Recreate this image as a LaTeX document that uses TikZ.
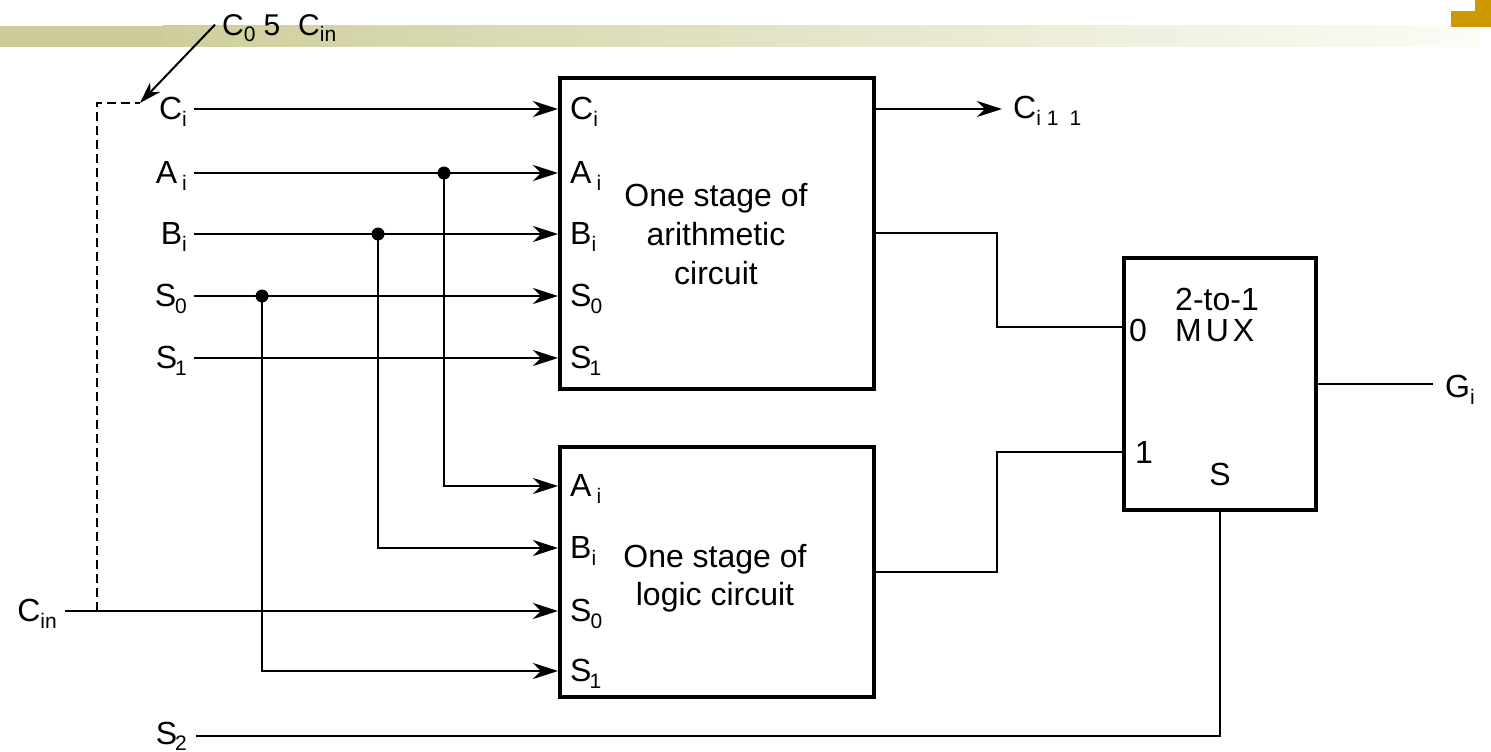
\documentclass[tikz,border=0pt]{standalone}
\usepackage{fontspec}
\setmainfont{Liberation Sans}
\usetikzlibrary{arrows.meta}
\definecolor{barL}{RGB}{204,204,153}
\definecolor{barM}{RGB}{206,206,156}
\definecolor{barR}{RGB}{252,252,247}
\definecolor{gold}{RGB}{204,153,0}
\newcommand{\lsub}[1]{\raisebox{-7pt}{\fontsize{21pt}{21pt}\selectfont #1}}
\newcommand{\tsub}[1]{\raisebox{-6pt}{\fontsize{21pt}{21pt}\selectfont #1}}
\begin{document}
\begin{tikzpicture}[x=1pt,y=-1pt,
  lbl/.style={font=\fontsize{32pt}{39pt}\selectfont, inner sep=0pt},
  box/.style={draw, line width=4pt, inner sep=0pt},
  wire/.style={line width=2.4pt},
  arr/.style={wire, -{Stealth[length=25pt,width=16pt,inset=8pt]}},
  thinarr/.style={line width=2pt, -{Stealth[length=22pt,width=14pt,inset=7pt]}},
  dashwire/.style={line width=1.6pt, dash pattern=on 9pt off 5pt},
  dot/.style={circle, fill, inner sep=0pt, minimum size=13pt}]
\useasboundingbox (0,0) rectangle (1491,752);
% header bar
\fill[barL] (0,26) rectangle (163,47);
\shade[left color=barM, right color=barR] (163,26) rectangle (1480,47);
\fill[gold] (1451,11) rectangle (1491,27);
\fill[gold] (1475,0) rectangle (1491,11);

% boxes
\node[box, minimum width=314pt, minimum height=311pt] (arith) at (717,233.5) {};
\node[box, minimum width=314pt, minimum height=250pt] (logic) at (717,572) {};
\node[box, minimum width=192pt, minimum height=252pt] (mux) at (1220,384) {};

\node[lbl, align=center] (atext) at (716,234) {One stage of\\arithmetic\\circuit};
\node[lbl, align=center, font=\fontsize{32pt}{38pt}\selectfont] (ltext) at (715,578) {One stage of\\logic circuit};

% port labels inside arithmetic box
\node[lbl, anchor=base west] (aCi) at (570,119) {C\lsub{i}};
\node[lbl, anchor=base west] (aAi) at (570,183) {A\hspace{5pt}\lsub{i}};
\node[lbl, anchor=base west] (aBi) at (570,244) {B\lsub{i}};
\node[lbl, anchor=base west] (aS0) at (570,306) {S\kern-1pt\lsub{0}};
\node[lbl, anchor=base west] (aS1) at (570,368) {S\kern-2pt\lsub{1}};
% port labels inside logic box
\node[lbl, anchor=base west] (lAi) at (570,496) {A\hspace{5pt}\lsub{i}};
\node[lbl, anchor=base west] (lBi) at (570,558) {B\lsub{i}};
\node[lbl, anchor=base west] (lS0) at (570,621) {S\kern-1pt\lsub{0}};
\node[lbl, anchor=base west] (lS1) at (570,681) {S\kern-2pt\lsub{1}};

% mux labels
\node[lbl, anchor=base] (m21) at (1217,310) {2-to-1};
\node[lbl, anchor=base west] (m0) at (1129,341) {0};
\node[lbl, anchor=base west] (mmux) at (1175,341) {M\kern4pt U\kern4pt X};
\node[lbl, anchor=base west] (m1) at (1135,463) {1};
\node[lbl, anchor=base] (ms) at (1220,485) {S};

% external labels
\node[lbl, anchor=base east] (iCi) at (187,119) {C\lsub{i}};
\node[lbl, anchor=base east] (iAi) at (187,183) {A\hspace{5pt}\lsub{i}};
\node[lbl, anchor=base east] (iBi) at (187,244) {B\lsub{i}};
\node[lbl, anchor=base east] (iS0) at (187,306) {S\kern-1pt\lsub{0}};
\node[lbl, anchor=base east] (iS1) at (187,368) {S\kern-2pt\lsub{1}};
\node[lbl, anchor=base east] (iCin) at (57,621) {C\lsub{in}};
\node[lbl, anchor=base east] (iS2) at (187,744) {S\kern-2pt\raisebox{-6pt}{\fontsize{21pt}{21pt}\selectfont 2}};
\node[lbl, anchor=base west] (oCi) at (1013,118) {C\lsub{i\hspace{6pt}1\hspace{11pt}1}};
\node[lbl, anchor=base west] (oG) at (1445,397) {G\lsub{i}};
\node[lbl, anchor=base west, font=\fontsize{30pt}{36pt}\selectfont] (c0) at (222,36) {C\tsub{0}\hspace{8pt}5\hspace{18pt}C\tsub{in}};

% start coordinates
\coordinate (sCi) at (194,109);
\coordinate (sAi) at (194,173);
\coordinate (sBi) at (194,234);
\coordinate (sS0) at (194,296);
\coordinate (sS1) at (194,358);
\coordinate (sCin) at (65,611);
\coordinate (sS2) at (196,736);
\coordinate (dbot) at (97,611);
\coordinate (dtop) at (97,103);
\coordinate (dend) at (140,103);

% junction dots
\node[dot] (jA) at (444,173) {};
\node[dot] (jB) at (378,234) {};
\node[dot] (jS) at (262,296) {};

% input wires
\draw[arr] (sCi) -- (sCi -| arith.west);
\draw[arr] (sAi) -- (sAi -| arith.west);
\draw[arr] (sBi) -- (sBi -| arith.west);
\draw[arr] (sS0) -- (sS0 -| arith.west);
\draw[arr] (sS1) -- (sS1 -| arith.west);
\draw[arr] (jA.center) |- (logic.west |- 0,486);
\draw[arr] (jB.center) |- (logic.west |- 0,548);
\draw[arr] (jS.center) |- (logic.west |- 0,671);
\draw[arr] (sCin) -- (sCin -| logic.west);
\draw[dashwire] (dbot) -- (dtop) -- (dend);
\draw[thinarr] ([xshift=-7pt,yshift=4pt]c0.west) -- (dend);

% outputs
\draw[arr] (arith.east |- 0,109) -- ([xshift=-11pt]oCi.west |- 0,109);
\draw[wire] (arith.east |- 0,233) -- (997,233) |- (mux.west |- 0,327);
\draw[wire] (logic.east) -- (997,572) |- (mux.west |- 0,452);
\draw[wire] (mux.east) -- ([xshift=-12pt]oG.west |- mux.east);
\draw[wire] (sS2) -| (mux.south);
\end{tikzpicture}
\end{document}
